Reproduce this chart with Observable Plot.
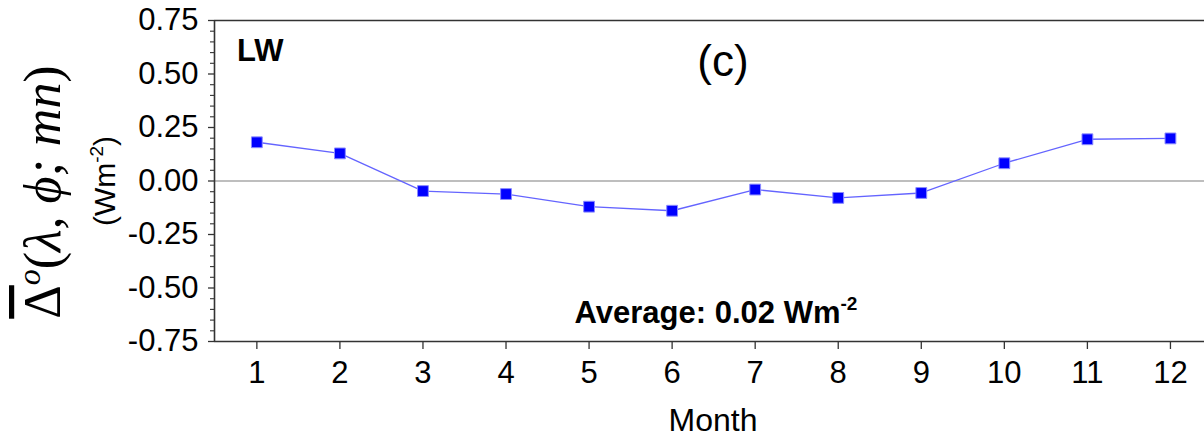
<!DOCTYPE html>
<html><head><meta charset="utf-8">
<script src="https://cdn.jsdelivr.net/npm/d3@7"></script>
<script src="https://cdn.jsdelivr.net/npm/@observablehq/plot@0.6"></script>
<style>
body{margin:0;background:#fff;}
#chart svg{display:block;}
</style>
</head><body><div id="chart"></div>
<script>
// ---- data ----
const months = [1, 2, 3, 4, 5, 6, 7, 8, 9, 10, 11, 12];
const lwValues = [0.181, 0.129, -0.047, -0.061, -0.120, -0.139, -0.040, -0.079, -0.056, 0.083, 0.195, 0.199];
const yTickValues = [-0.75, -0.5, -0.25, 0, 0.25, 0.5, 0.75];
const yMinorTickValues = [-0.7,-0.65,-0.6,-0.55,-0.45,-0.4,-0.35,-0.3,-0.2,-0.15,-0.1,-0.05,0.05,0.1,0.15,0.2,0.3,0.35,0.4,0.45,0.55,0.6,0.65,0.7];
const xTickLabels = ["1","2","3","4","5","6","7","8","9","10","11","12"];
const panelLabel = "(c)";
const seriesLabel = "LW";
const averageText = "Average: 0.02 Wm";
const xTitle = "Month";

const xDomain = [0.49, 12.41];
const yDomain = [-0.75, 0.75];
const data = months.map((m, i) => ({month: m, value: lwValues[i]}));

const font = "'Liberation Sans', Arial, sans-serif";
const axisColor = "#333";

const svg = Plot.plot({
  width: 1204,
  height: 440,
  marginLeft: 214,
  marginRight: 0,
  marginTop: 20,
  marginBottom: 99,
  style: {fontFamily: font, background: "#fff", color: "#000"},
  x: {domain: xDomain},
  y: {domain: yDomain},
  marks: [
    Plot.ruleY([0], {stroke: "#a8a8a8", strokeWidth: 1.3}),
    Plot.line(data, {x: "month", y: "value", stroke: "#6464ff", strokeWidth: 1.3}),
    Plot.dot(data, {x: "month", y: "value", symbol: "square", r: 6.1, fill: "#0000ff", stroke: "#8a8aff", strokeWidth: 1}),
    // frame: top, bottom, left
    Plot.ruleY([yDomain[1]], {stroke: axisColor, strokeWidth: 1.6}),
    Plot.ruleY([yDomain[0]], {stroke: axisColor, strokeWidth: 1.6}),
    Plot.ruleX([xDomain[0]], {stroke: axisColor, strokeWidth: 1.6}),
    Plot.axisY(yTickValues, {tickSize: 6, tickPadding: 10, tickFormat: d => d.toFixed(2), fontSize: 31, label: null, stroke: axisColor, strokeWidth: 1.3, fill: "#000"}),
    Plot.axisY(yMinorTickValues, {tickSize: 4, tickFormat: () => "", label: null, stroke: axisColor, strokeWidth: 1.1}),
    Plot.axisX(months, {tickSize: 8, tickPadding: 11, tickFormat: (d, i) => xTickLabels[i], fontSize: 31, label: null, stroke: axisColor, strokeWidth: 1.3, fill: "#000"})
  ]
});
document.getElementById("chart").appendChild(svg);

const s = d3.select(svg);
// panel labels
s.append("text").attr("x", 237).attr("y", 61).attr("text-anchor", "start")
  .attr("font-family", font).attr("font-weight", "bold").attr("font-size", 31).text(seriesLabel);
s.append("text").attr("x", 723).attr("y", 76).attr("text-anchor", "middle")
  .attr("font-family", font).attr("font-size", 44).text(panelLabel);
// average annotation
const avg = s.append("text").attr("x", 716).attr("y", 323).attr("text-anchor", "middle")
  .attr("font-family", font).attr("font-weight", "bold").attr("font-size", 31);
avg.append("tspan").text(averageText);
avg.append("tspan").attr("font-size", 19).attr("dy", -13).text("-2");
// x title
s.append("text").attr("x", 713).attr("y", 431).attr("text-anchor", "middle")
  .attr("font-family", font).attr("font-size", 32).text(xTitle);
// y title (math)
const yt = s.append("text").attr("transform", "translate(60,192) rotate(-90)").attr("text-anchor", "middle")
  .attr("font-family", "'Liberation Serif', 'DejaVu Serif', serif").attr("font-size", 52);
yt.append("tspan").attr("font-style", "normal").attr("text-decoration", "overline").text("\u0394");
yt.append("tspan").attr("font-style", "italic").attr("font-size", 32).attr("dy", -20).text("o");
yt.append("tspan").attr("font-style", "normal").attr("dy", 20).text("(");
yt.append("tspan").attr("font-style", "italic").text("\u03BB, \u03D5; mn");
yt.append("tspan").attr("font-style", "normal").text(")");
// y units
const yu = s.append("text").attr("transform", "translate(115,181) rotate(-90)").attr("text-anchor", "middle")
  .attr("font-family", font).attr("font-size", 30);
yu.append("tspan").text("(Wm");
yu.append("tspan").attr("font-size", 19).attr("dy", -12).text("-2");
yu.append("tspan").attr("dy", 12).text(")");
</script>
</body></html>
